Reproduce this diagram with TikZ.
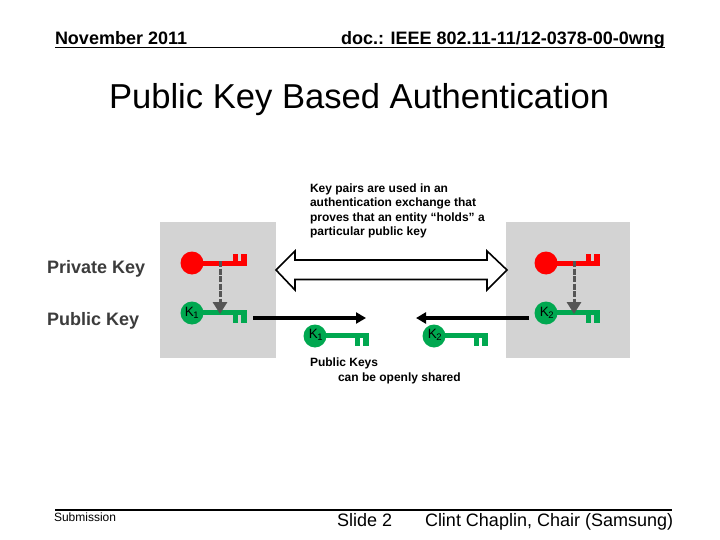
\documentclass[tikz,border=0pt]{standalone}
\usepackage{fontspec}
\setmainfont{Liberation Sans}
\usetikzlibrary{arrows.meta}
\definecolor{keyred}{RGB}{255,0,0}
\definecolor{keygreen}{RGB}{0,168,80}
\definecolor{boxgray}{RGB}{211,211,211}
\definecolor{linkgray}{RGB}{85,85,85}
\definecolor{sidetext}{RGB}{60,60,60}
\tikzset{
  x=1pt,y=-1pt,
  txt/.style={inner sep=0pt,outer sep=0pt,anchor=base west,text=black},
  panel/.style={fill=boxgray,draw=none},
  flow/.style={line width=3.2pt,-{Triangle[length=10pt,width=11pt]}},
  hold/.style={line width=3pt,linkgray,dash pattern=on 6pt off 1.5pt,-{Triangle[length=12pt,width=14pt]}},
  rule/.style={line width=1.5pt},
  keylabel/.style={inner sep=0pt,font=\fontsize{13.5}{15}\selectfont,text=black}
}
% key: #1 name, #2 cx, #3 cy, #4 colour, #5 length to end, #6 tooth direction (-1 up, 1 down)
\newcommand{\keyglyph}[6]{%
  \fill[#4] (#2,#3) circle[radius=11.5];
  \fill[#4] (#2+8,#3-0.5*#6-2.5) rectangle (#2+#5,#3-0.5*#6+2.5);
  \fill[#4] (#2+#5-14.5,#3) rectangle (#2+#5-9.3,#3+9.5*#6);
  \fill[#4] (#2+#5-5.7,#3) rectangle (#2+#5,#3+9.5*#6);
  \coordinate (#1) at (#2+28,#3);
}
\begin{document}
\begin{tikzpicture}
\useasboundingbox (0,0) rectangle (720,540);
\fill[white] (0,0) rectangle (720,540);
% panels
\fill[panel] (160,222) rectangle (276,358);
\fill[panel] (506,222) rectangle (630,358);
% header
\node[txt,font=\bfseries\fontsize{18}{20}\selectfont] (date) at (55,44.7) {November 2011};
\node[txt,font=\bfseries\fontsize{18}{20}\selectfont] (doc) at (341,44.7) {doc.: IEEE 802.11-11/12-0378-00-0wng};
\coordinate (hl) at (55,47.5);
\coordinate (hr) at (665,47.5);
\draw[rule] (hl) -- (hr);
\node[txt,font=\fontsize{34.6}{38}\selectfont] (title) at (109,109) {Public Key Based Authentication};
% note
\node[txt,font=\bfseries\fontsize{12}{14.5}\selectfont,align=left,anchor=north west] (note) at (310,183.5)
 {Key pairs are used in an\\authentication exchange that\\proves that an entity “holds” a\\particular public key};
\node[txt,font=\bfseries\fontsize{18}{20}\selectfont,text=sidetext] (priv) at (47,273) {Private Key};
\node[txt,font=\bfseries\fontsize{18}{20}\selectfont,text=sidetext] (pub) at (47,325) {Public Key};
% double block arrow
\draw[line width=1.6pt,fill=white,miter limit=10]
  (276,270) -- (295,251) -- (295,260) -- (487,260) -- (487,251) -- (507,270)
  -- (487,290) -- (487,279.5) -- (295,279.5) -- (295,290) -- cycle;
% keys
\keyglyph{ra}{192}{263}{keyred}{55}{-1}
\keyglyph{ga}{192}{313}{keygreen}{55}{1}
\keyglyph{rb}{546}{263}{keyred}{54}{-1}
\keyglyph{gb}{546}{313}{keygreen}{54}{1}
\keyglyph{gc}{315}{336}{keygreen}{54}{1}
\keyglyph{gd}{434}{336}{keygreen}{54}{1}
\node[keylabel] (ka) at (192,313) {K\textsubscript{\kern-.5pt 1}};
\node[keylabel] (kb) at (547,313) {K\textsubscript{\kern-.5pt 2}};
\node[keylabel] (kc) at (316,335) {K\textsubscript{\kern-.5pt 1}};
\node[keylabel] (kd) at (435,335) {K\textsubscript{\kern-.5pt 2}};
% connectors
\draw[hold] (ra) ++(0,-2) coordinate (ra2) (ra2) -- ([yshift=-1pt]ga);
\draw[hold] (rb) ++(0,-2) coordinate (rb2) (rb2) -- ([yshift=-1pt]gb);
\coordinate (fa) at (253,318); \coordinate (fb) at (366,318);
\coordinate (fc) at (529,318); \coordinate (fd) at (416,318);
\draw[flow] (fa) -- (fb);
\draw[flow] (fc) -- (fd);
% caption
\node[txt,font=\bfseries\fontsize{12}{14.5}\selectfont,align=left,anchor=north west] (cap) at (310,358)
 {Public Keys\\\hspace*{28pt}can be openly shared};
% footer
\coordinate (fl) at (55,510);
\coordinate (fr) at (672,510);
\draw[rule] (fl) -- (fr);
\node[txt,font=\fontsize{12}{14}\selectfont] (sub) at (54,521.5) {Submission};
\node[txt,font=\fontsize{18}{20}\selectfont] (slide) at (337,526) {Slide 2};
\node[txt,font=\fontsize{18}{20}\selectfont] (auth) at (425,526) {Clint Chaplin, Chair (Samsung)};
\end{tikzpicture}
\end{document}
